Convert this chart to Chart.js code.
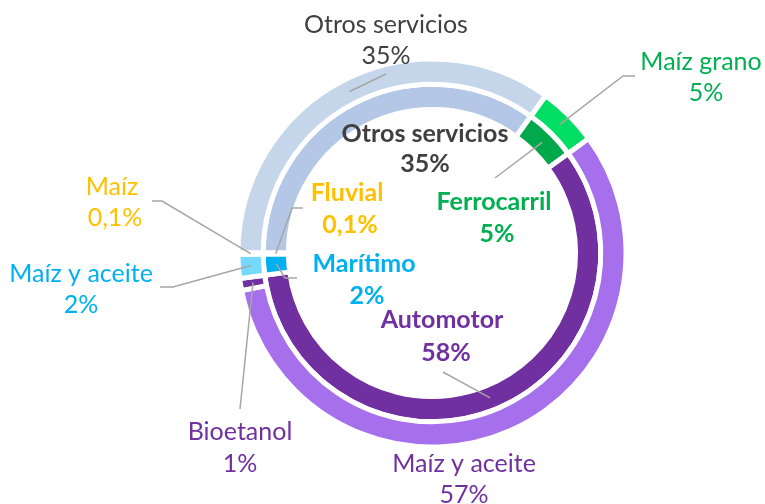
<!DOCTYPE html>
<html>
<head>
<meta charset="utf-8">
<script src="https://cdn.jsdelivr.net/npm/chart.js@4.4.0/dist/chart.umd.min.js"></script>
<style>
  html, body { margin: 0; padding: 0; background: #fff; }
  #wrap { width: 765px; height: 504px; }
</style>
</head>
<body>
<div id="wrap"><canvas id="chart" width="765" height="504"></canvas></div>
<script>
// outer ring (dataset 0)
const outerLabels = ["Otros servicios", "Maíz grano", "Maíz y aceite", "Bioetanol", "Maíz y aceite", "Maíz"];
const outerValues = [35, 5, 57, 1, 2, 0.1];
// inner ring (dataset 1)
const innerLabels = ["Otros servicios", "Ferrocarril", "Automotor", "Marítimo", "Fluvial"];
const innerValues = [35, 5, 58, 2, 0.1];

const outerColors = ["#C5D5EA", "#00DF63", "#A66FEB", "#7030A0", "#75D8FD", "#FFC000"];
const innerColors = ["#B4C7E7", "#00A84C", "#7030A0", "#00B0F0", "#FFC000"];
const outerTextColors = ["#404040", "#00B050", "#7030A0", "#7030A0", "#00B0F0", "#FFC000"];
const innerTextColors = ["#404040", "#00B050", "#7030A0", "#00B0F0", "#FFC000"];

// label layout: line positions and leader elbow points (null = no leader)
const outerLayout = [
  { lines: [[386, 33], [386, 63.5]], leader: [[386, 74]] },
  { lines: [[701, 70], [706, 101]], leader: [[635, 76], [623, 76]] },
  { lines: [[464, 472], [464, 503]], leader: null },
  { lines: [[240, 440], [240, 472]], leader: [[240, 409]] },
  { lines: [[81, 282], [81, 313]], leader: [[160, 287], [173, 287]] },
  { lines: [[112, 195], [115, 226]], leader: [[152, 201], [162, 201]] },
];
const innerLayout = [
  { lines: [[425, 142], [425, 172]], leader: null },
  { lines: [[494, 210], [497, 242]], leader: [[495, 178]] },
  { lines: [[442, 328], [446, 361]], leader: [[443, 372]] },
  { lines: [[364, 272], [367, 304]], leader: [[297, 278], [285, 278]] },
  { lines: [[347, 201], [350, 233]], leader: [[303, 208], [292, 208]] },
];

const fmt = v => String(v).replace(".", ",") + "%";

const labelPlugin = {
  id: "ringLabels",
  afterDatasetsDraw(chart) {
    const ctx = chart.ctx;
    const rings = [
      { names: outerLabels, values: outerValues, colors: outerTextColors, layout: outerLayout, weight: "normal" },
      { names: innerLabels, values: innerValues, colors: innerTextColors, layout: innerLayout, weight: "bold" },
    ];
    ctx.save();
    rings.forEach((ring, di) => {
      const arcs = chart.getDatasetMeta(di).data;
      ring.names.forEach((name, i) => {
        const lay = ring.layout[i];
        if (lay.leader) {
          const p = arcs[i].getCenterPoint();
          ctx.beginPath();
          ctx.moveTo(lay.leader[0][0], lay.leader[0][1]);
          lay.leader.slice(1).forEach(pt => ctx.lineTo(pt[0], pt[1]));
          ctx.lineTo(p.x, p.y);
          ctx.strokeStyle = "#A6A6A6";
          ctx.lineWidth = 1.5;
          ctx.stroke();
        }
        ctx.fillStyle = ring.colors[i];
        ctx.font = ring.weight + " 25px Lato";
        ctx.textAlign = "center";
        ctx.textBaseline = "alphabetic";
        const texts = [name, fmt(ring.values[i])];
        texts.forEach((t, k) => ctx.fillText(t, lay.lines[k][0], lay.lines[k][1]));
      });
    });
    ctx.restore();
  },
};

new Chart(document.getElementById("chart"), {
  type: "doughnut",
  data: {
    labels: outerLabels,
    datasets: [
      { data: outerValues, backgroundColor: outerColors },
      { data: innerValues, backgroundColor: innerColors },
    ],
  },
  options: {
    responsive: false,
    animation: false,
    rotation: 270,
    radius: 194,
    cutout: "74%",
    borderWidth: 5,
    borderColor: "#FFFFFF",
    layout: { padding: { left: 241, right: 142, top: 62, bottom: 60 } },
    plugins: { legend: { display: false }, tooltip: { enabled: false } },
  },
  plugins: [labelPlugin],
});
</script>
</body>
</html>
